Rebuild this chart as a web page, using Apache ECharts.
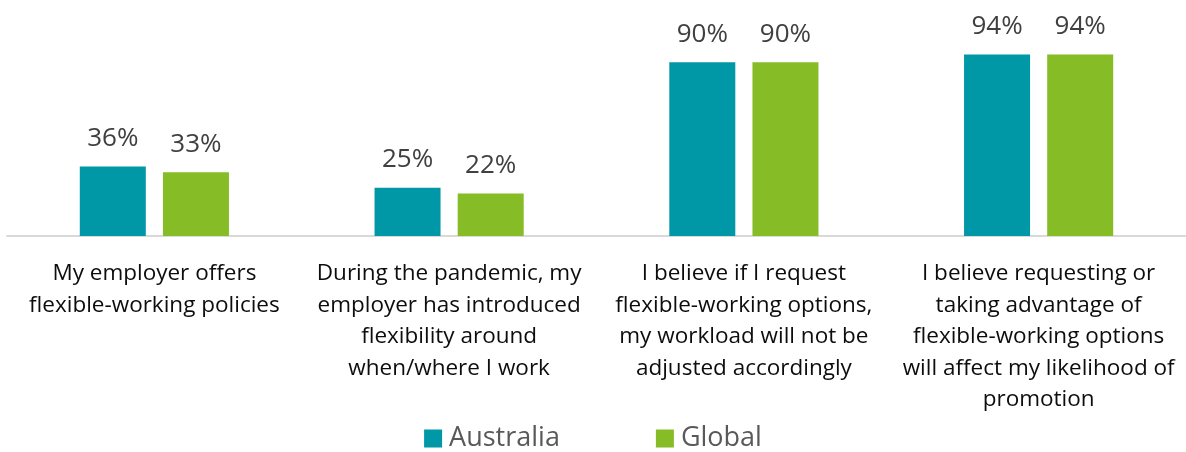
<!DOCTYPE html>
<html>
<head>
<meta charset="utf-8">
<script src="https://cdn.jsdelivr.net/npm/echarts@6/dist/echarts.min.js"></script>
<style>
  html, body { margin: 0; padding: 0; background: #fff; }
  #chart { width: 1186px; height: 452px; }
</style>
</head>
<body>
<div id="chart"></div>
<script>
// categories and values
const categories = [
  'My employer offers\nflexible-working policies',
  'During the pandemic, my\nemployer has introduced\nflexibility around\nwhen/where I work',
  'I believe if I request\nflexible-working options,\nmy workload will not be\nadjusted accordingly',
  'I believe requesting or\ntaking advantage of\nflexible-working options\nwill affect my likelihood of\npromotion'
]
const australia = [36, 25, 90, 94]
const global = [33, 22, 90, 94]
const seriesNames = ['Australia', 'Global']

const chart = echarts.init(document.getElementById('chart'))

const labelStyle = {
  show: true,
  position: 'top',
  distance: 15,
  formatter: '{c}%',
  fontFamily: 'Open Sans',
  fontSize: 26,
  color: '#404040'
}

const option = {
  animation: false,
  textStyle: { fontFamily: 'Open Sans' },
  grid: { left: 7, right: -2, top: 43, bottom: 216 },
  legend: {
    data: seriesNames,
    bottom: -5,
    left: 'center',
    icon: 'rect',
    itemWidth: 18,
    itemHeight: 18,
    itemGap: 96,
    textStyle: { fontFamily: 'Open Sans', fontSize: 27, color: '#595959', padding: [0, 0, 0, 2] }
  },
  xAxis: {
    type: 'category',
    data: categories,
    axisTick: { show: false },
    axisLine: { lineStyle: { color: '#d9d9d9', width: 2 } },
    axisLabel: {
      interval: 0,
      margin: 22,
      fontFamily: 'Open Sans',
      fontSize: 22.5,
      lineHeight: 31.5,
      color: '#0d0d0d'
    }
  },
  yAxis: {
    type: 'value',
    min: 0,
    max: 100,
    show: false
  },
  series: [
    {
      name: seriesNames[0],
      type: 'bar',
      data: australia,
      barWidth: 66,
      barGap: '26%',
      itemStyle: { color: '#0097a7' },
      label: labelStyle
    },
    {
      name: seriesNames[1],
      type: 'bar',
      data: global,
      barWidth: 66,
      itemStyle: { color: '#86bc25' },
      label: labelStyle
    }
  ]
}

chart.setOption(option)
</script>
</body>
</html>
